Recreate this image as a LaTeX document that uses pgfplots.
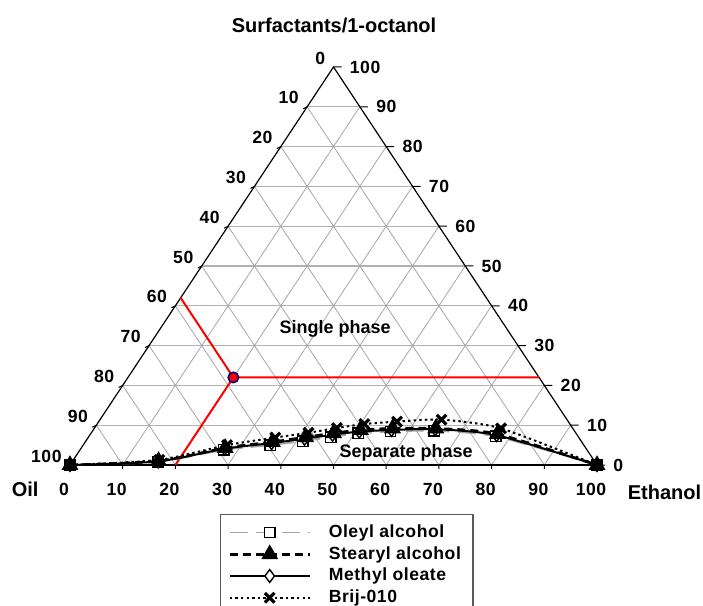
\documentclass[border=0pt]{standalone}
\usepackage{fontspec}
\setmainfont{Liberation Sans}
\newfontfamily\lsf[LetterSpace=3]{Liberation Sans}
\usepackage{pgfplots}
\pgfplotsset{compat=1.18}
\usepackage{pgfplotstable}

% ternary data: E = ethanol (%), S = surfactants/1-octanol (%)
\pgfplotstableread{
E S
0 0
16.3 0.8
27.3 3.8
35.5 5.0
41.2 6.0
46.0 7.0
50.7 8.0
56.6 8.4
64.8 8.6
77.2 7.2
100 0
}\oleyl
\pgfplotstableread{
E S
0 0
16.3 1.0
27.3 4.3
35.5 5.8
41.2 7.0
46.0 8.0
50.7 8.8
56.6 9.2
64.8 9.2
77.2 7.8
100 0
}\stearyl
\pgfplotstableread{
E S
0 0
16.3 0.9
27.3 4.1
35.5 5.5
41.2 6.6
46.0 7.6
50.7 8.4
56.6 8.8
64.8 9.0
77.2 7.5
100 0
}\methyl
\pgfplotstableread{
E S
0 0
16.3 1.3
27.3 5.0
35.5 6.9
41.2 8.1
46.0 9.3
50.7 10.3
56.6 10.9
64.8 11.4
77.2 9.2
100 0
}\brij

\pgfplotsset{
  oleylst/.style={gray!70, line width=0.9pt, dash pattern=on 9pt off 4pt,
    mark=square*, mark size=2.6pt, mark options={solid, fill=white, draw=black, line width=0.7pt}},
  stearylst/.style={black, line width=1.3pt, dash pattern=on 4pt off 2.5pt,
    mark=triangle*, mark size=3.6pt, mark options={solid, fill=black}},
  methylst/.style={black, line width=1pt, solid,
    mark=diamond*, mark size=3.2pt, mark options={solid, fill=white, draw=black, line width=0.7pt}},
  brijst/.style={black, line width=1pt, dash pattern=on 1.2pt off 1.6pt,
    mark=x, mark size=3.4pt, mark options={solid, line width=1.6pt}},
}

\newcommand\lft[3]{\node[lab,anchor=east,xshift=-4pt,yshift=4.5pt] at (axis cs:#1,#2) {#3};}
\newcommand\rgt[3]{\node[lab,anchor=west,xshift=8pt] at (axis cs:#1,#2) {#3};}
\newcommand\btm[1]{\node[lab,anchor=center,xshift=-3pt,yshift=-12pt] at (axis cs:#1,0) {#1};}

\begin{document}
\begin{tikzpicture}[lab/.style={inner sep=0pt,font=\lsf\fontsize{8.8}{10}\selectfont\bfseries}]
\begin{axis}[
  scale only axis, width=263.5pt, height=199pt,
  xmin=0, xmax=100, ymin=0, ymax=100,
  hide axis, clip=false,
  legend style={at={(0.2846,-0.1231)}, anchor=north west,
    draw=gray!70!black, line width=0.6pt,
    font=\lsf\fontsize{8.8}{10}\selectfont\bfseries,
    inner xsep=4pt, inner ysep=3pt, row sep=-1pt, column sep=7pt},
  legend cell align=left,
  legend image code/.code={\draw[mark repeat=2,mark phase=2,#1] plot coordinates {(0cm,0cm) (0.7cm,0cm) (1.4cm,0cm)};},
]
\addlegendimage{oleylst}\addlegendentry{Oleyl alcohol\hspace{3pt}}
\addlegendimage{stearylst}\addlegendentry{Stearyl alcohol\hspace{3pt}}
\addlegendimage{methylst}\addlegendentry{Methyl oleate\hspace{3pt}}
\addlegendimage{brijst}\addlegendentry{Brij-010\hspace{3pt}}
% grid
\draw[gray!60, line width=0.6pt]
  (5,10)--(95,10) (10,20)--(90,20) (15,30)--(85,30) (20,40)--(80,40)
  (25,50)--(75,50) (30,60)--(70,60) (35,70)--(65,70) (40,80)--(60,80) (45,90)--(55,90);
\draw[gray!70, line width=0.4pt]
  (10,0)--(55,90) (20,0)--(60,80) (30,0)--(65,70) (40,0)--(70,60) (50,0)--(75,50)
  (60,0)--(80,40) (70,0)--(85,30) (80,0)--(90,20) (90,0)--(95,10)
  (10,0)--(5,10) (20,0)--(10,20) (30,0)--(15,30) (40,0)--(20,40) (50,0)--(25,50)
  (60,0)--(30,60) (70,0)--(35,70) (80,0)--(40,80) (90,0)--(45,90);
% triangle
\draw[black, line width=0.6pt] (0,0)--(50,100)--(100,0);
\draw[black, line width=1.1pt] (0,0)--(100,0);
% ticks
\draw[black, line width=0.5pt]
  (10,0)--++(0,-2pt) (20,0)--++(0,-2pt) (30,0)--++(0,-2pt) (40,0)--++(0,-2pt) (50,0)--++(0,-2pt)
  (60,0)--++(0,-2pt) (70,0)--++(0,-2pt) (80,0)--++(0,-2pt) (90,0)--++(0,-2pt)
  (50,100)--++(4pt,0) (55,90)--++(4pt,0) (60,80)--++(4pt,0) (65,70)--++(4pt,0) (70,60)--++(4pt,0)
  (75,50)--++(4pt,0) (80,40)--++(4pt,0) (85,30)--++(4pt,0) (90,20)--++(4pt,0) (95,10)--++(4pt,0) (100,0)--++(4pt,0)
  (45,90)--++(-2pt,-1pt) (40,80)--++(-2pt,-1pt) (35,70)--++(-2pt,-1pt) (30,60)--++(-2pt,-1pt) (25,50)--++(-2pt,-1pt)
  (20,40)--++(-2pt,-1pt) (15,30)--++(-2pt,-1pt) (10,20)--++(-2pt,-1pt) (5,10)--++(-2pt,-1pt);
% left labels (oil)
\lft{50}{100}{0}\lft{45}{90}{10}\lft{40}{80}{20}\lft{35}{70}{30}\lft{30}{60}{40}\lft{25}{50}{50}
\lft{20}{40}{60}\lft{15}{30}{70}\lft{10}{20}{80}\lft{5}{10}{90}\lft{0}{0}{100}
% right labels (surfactants)
\rgt{50}{100}{100}\rgt{55}{90}{90}\rgt{60}{80}{80}\rgt{65}{70}{70}\rgt{70}{60}{60}\rgt{75}{50}{50}
\rgt{80}{40}{40}\rgt{85}{30}{30}\rgt{90}{20}{20}\rgt{95}{10}{10}\rgt{100}{0}{0}
% bottom labels (ethanol)
\btm{0}\btm{10}\btm{20}\btm{30}\btm{40}\btm{50}\btm{60}\btm{70}\btm{80}\btm{90}\btm{100}
% titles
\node[font=\fontsize{10}{12}\selectfont\bfseries] at (axis cs:50.1,110.5) {Surfactants/1-octanol};
\node[font=\fontsize{10}{12}\selectfont\bfseries] at (axis cs:-8.5,-6.0) {Oil};
\node[font=\fontsize{10}{12}\selectfont\bfseries] at (axis cs:112.8,-6.8) {Ethanol};
\node[font=\fontsize{9}{11}\selectfont\bfseries] at (axis cs:50.3,34.2) {Single phase};
\node[font=\fontsize{9}{11}\selectfont\bfseries] at (axis cs:63.8,3.0) {Separate phase};
% red construction lines
\addplot[red, line width=1pt, forget plot] coordinates {(21,42) (31,22) (89,22)};
\addplot[red, line width=1pt, forget plot] coordinates {(31,22) (20,0)};
% curves (open-marker series first so the filled marks sit on top)
\addplot[oleylst, smooth, tension=0.4, forget plot]
  table[x expr=\thisrow{E}+0.5*\thisrow{S}, y=S] {\oleyl};
\addplot[methylst, smooth, tension=0.4, forget plot]
  table[x expr=\thisrow{E}+0.5*\thisrow{S}, y=S] {\methyl};
\addplot[stearylst, smooth, tension=0.4, forget plot]
  table[x expr=\thisrow{E}+0.5*\thisrow{S}, y=S] {\stearyl};
\addplot[brijst, smooth, tension=0.4, forget plot]
  table[x expr=\thisrow{E}+0.5*\thisrow{S}, y=S] {\brij};
% red point
\addplot[only marks, mark=*, mark size=2.6pt, mark options={fill=red, draw=blue!50!black, line width=0.8pt}, forget plot]
  coordinates {(31,22)};
\coordinate (bbsw) at (axis cs:-13.28,-35.18);
\coordinate (bbne) at (axis cs:120.11,116.83);
\end{axis}
\pgfresetboundingbox
\useasboundingbox (bbsw) rectangle (bbne);
\end{tikzpicture}
\end{document}
